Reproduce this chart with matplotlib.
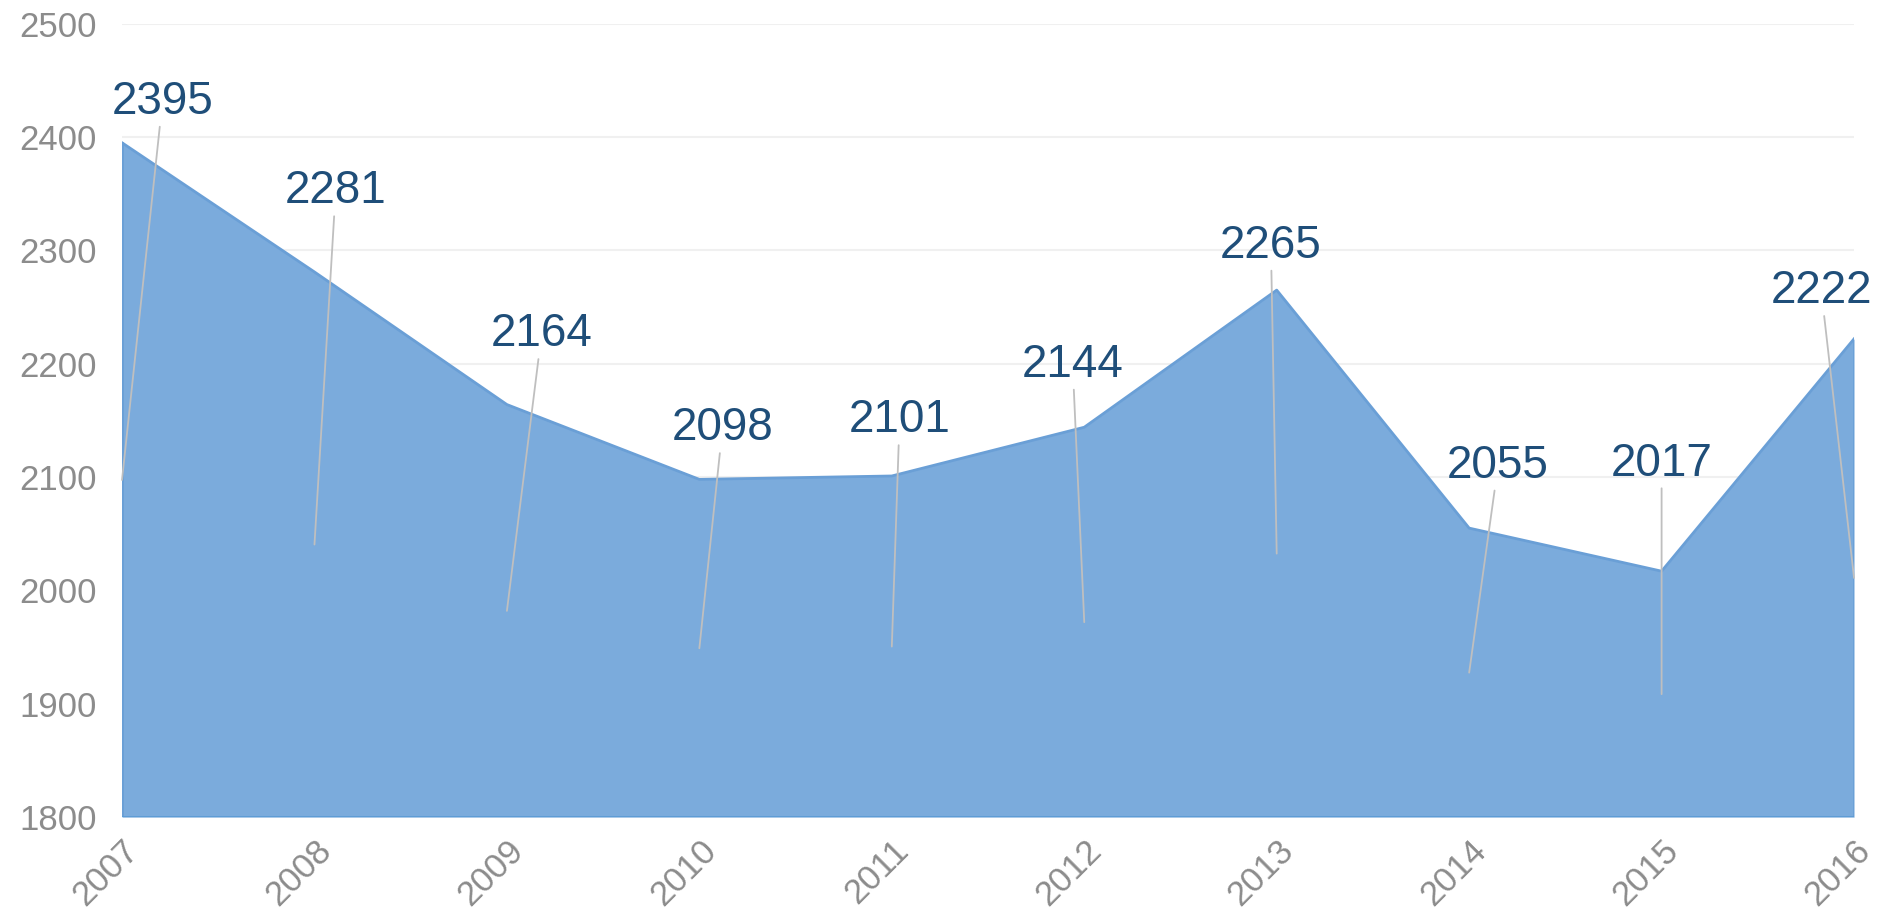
import numpy as np
import matplotlib
matplotlib.use("Agg")
import matplotlib.pyplot as plt

# data
years = [2007, 2008, 2009, 2010, 2011, 2012, 2013, 2014, 2015, 2016]
values = [2395, 2281, 2164, 2098, 2101, 2144, 2265, 2055, 2017, 2222]
y_ticks = [1800, 1900, 2000, 2100, 2200, 2300, 2400, 2500]

# where the (dragged) data labels sit, in data coords
label_x = [2007.21, 2008.11, 2009.18, 2010.12, 2011.04, 2011.94, 2012.97, 2014.15, 2015.00, 2015.83]
label_y = [2431, 2352, 2226, 2143, 2150, 2199, 2304, 2110, 2112, 2264]

plt.rcParams['font.family'] = ['Liberation Sans', 'DejaVu Sans']

fig = plt.figure(figsize=(18.8, 9.13), dpi=100)
ax = fig.add_axes([0.0649, 0.105, 0.9213, 0.869])

base = y_ticks[0]
ax.fill_between(years, values, base, color='#7BABDC', linewidth=0, zorder=2)
ax.plot(years, values, color='#6A9FD6', lw=2, zorder=3)
ax.plot([years[0], years[0]], [base, values[0]], color='#6A9FD6', lw=2, zorder=3)
ax.plot([years[-1], years[-1]], [base, values[-1]], color='#6A9FD6', lw=2, zorder=3)
ax.axhline(base, color='#5B9BD5', lw=2, zorder=3)

# labels with leader lines to the default (middle of area) position
for x, v, lx, ly in zip(years, values, label_x, label_y):
    ax.annotate(str(v), xy=(x, (v + base) / 2), xytext=(lx, ly),
                textcoords='data', ha='center', va='center',
                fontsize=33, color='#1F4E79', zorder=5,
                arrowprops=dict(arrowstyle='-', color='#BFBFBF', lw=1.3,
                                shrinkA=0, shrinkB=0))

ax.set_xlim(years[0], years[-1])
ax.set_ylim(y_ticks[0], y_ticks[-1])
ax.set_yticks(y_ticks)
ax.set_xticks(years)
ax.set_xticklabels([str(y) for y in years], rotation=45, ha='right',
                   rotation_mode='anchor')
ax.tick_params(axis='both', length=0, labelsize=25, labelcolor='#8C8C8C')
ax.tick_params(axis='y', pad=18)
ax.tick_params(axis='x', pad=12)
ax.grid(axis='y', color='#F0F0F0', lw=1.5, zorder=0)
ax.set_axisbelow(True)
for s in ax.spines.values():
    s.set_visible(False)

fig.savefig('out.png', dpi=100)
